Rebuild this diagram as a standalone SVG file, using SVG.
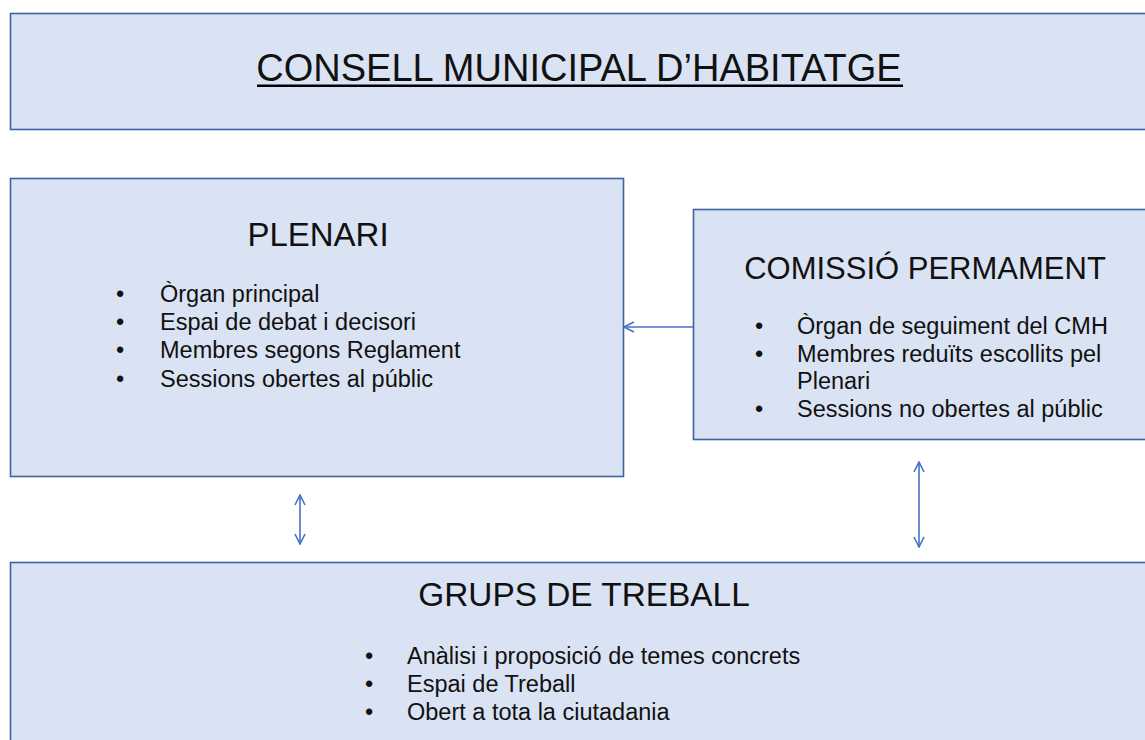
<svg xmlns="http://www.w3.org/2000/svg" width="1145" height="740" viewBox="0 0 1145 740">
<defs>
<marker id="ah" viewBox="0 0 12 12" refX="11" refY="6" markerWidth="12" markerHeight="12" markerUnits="userSpaceOnUse" orient="auto-start-reverse">
<path d="M1,1 L11,6 L1,11" fill="none" stroke="#4472c4" stroke-width="1.6"/>
</marker>
</defs>
<style>
.box{fill:#dae3f3;stroke:#3d62a6;stroke-width:1.6}
.t{font-family:"Liberation Sans",Arial,sans-serif;fill:#111}
.b{font-size:23.5px}
.conn{stroke:#4472c4;stroke-width:1.6;fill:none}
</style>
<rect width="1145" height="740" fill="#fff"/>
<g id="consell">
<rect class="box" x="10.5" y="13.5" width="1140" height="116"/>
<text class="t" x="579" y="81" font-size="38" text-anchor="middle">CONSELL MUNICIPAL D’HABITATGE</text>
<rect x="257" y="84.5" width="646" height="2.5" fill="#000"/>
</g>
<g id="plenari">
<rect class="box" x="10.5" y="178.5" width="613" height="298"/>
<text class="t" x="318" y="246" font-size="33" text-anchor="middle">PLENARI</text>
<g class="t b">
<text x="116" y="302">•</text><text x="160" y="302">Òrgan principal</text>
<text x="116" y="330">•</text><text x="160" y="330">Espai de debat i decisori</text>
<text x="116" y="358">•</text><text x="160" y="358">Membres segons Reglament</text>
<text x="116" y="387">•</text><text x="160" y="387">Sessions obertes al públic</text>
</g>
</g>
<g id="comissio">
<rect class="box" x="693.5" y="209.5" width="460" height="230"/>
<text class="t" x="925" y="279" font-size="31" text-anchor="middle">COMISSIÓ PERMAMENT</text>
<g class="t b">
<text x="755" y="334">•</text><text x="797" y="334">Òrgan de seguiment del CMH</text>
<text x="755" y="362">•</text><text x="797" y="362">Membres reduïts escollits pel</text>
<text x="797" y="389">Plenari</text>
<text x="755" y="417">•</text><text x="797" y="417">Sessions no obertes al públic</text>
</g>
</g>
<g id="grups">
<rect class="box" x="10.5" y="562.5" width="1140" height="200"/>
<text class="t" x="584" y="606" font-size="33.4" text-anchor="middle">GRUPS DE TREBALL</text>
<g class="t b">
<text x="365" y="664">•</text><text x="407" y="664">Anàlisi i proposició de temes concrets</text>
<text x="365" y="692">•</text><text x="407" y="692">Espai de Treball</text>
<text x="365" y="720">•</text><text x="407" y="720">Obert a tota la ciutadania</text>
</g>
</g>
<g id="connectors">
<line class="conn" x1="693" y1="327" x2="624" y2="327" marker-end="url(#ah)"/>
<line class="conn" x1="300" y1="495" x2="300" y2="544" marker-start="url(#ah)" marker-end="url(#ah)"/>
<line class="conn" x1="919" y1="462" x2="919" y2="547" marker-start="url(#ah)" marker-end="url(#ah)"/>
</g>
</svg>
